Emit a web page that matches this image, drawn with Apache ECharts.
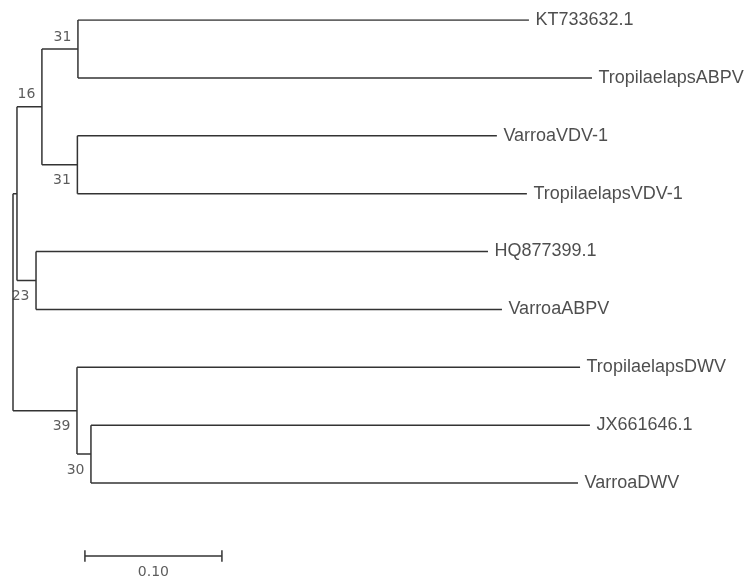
<!DOCTYPE html>
<html><head><meta charset="utf-8">
<script src="https://cdn.jsdelivr.net/npm/echarts@6/dist/echarts.min.js"></script>
<style>html,body{margin:0;padding:0;background:#fff}#c{width:751px;height:581px}</style>
</head><body><div id="c"></div>
<script>
// Leaves (top to bottom) and their branch lengths from parent
const taxa = ['KT733632.1','TropilaelapsABPV','VarroaVDV-1','TropilaelapsVDV-1','HQ877399.1','VarroaABPV','TropilaelapsDWV','JX661646.1','VarroaDWV'];
const taxonBranch = [0.3292, 0.3752, 0.3062, 0.3281, 0.3299, 0.3401, 0.3672, 0.3642, 0.3555];
// Internal clades: ids 9.. in this order; children refer to leaf index (0-8) or clade id
const cladeKids = [[0,1],[2,3],[9,10],[4,5],[11,12],[7,8],[6,14],[13,15]];
const cladeBranch = [0.0263, 0.0259, 0.0182, 0.0139, 0.0029, 0.0102, 0.0467, 0];
const cladeSupport = [31, 31, 16, 23, null, 30, 39, null];
// Scale bar
const scaleLength = 0.10;
const scaleLabel = '0.10';

// style-only: where each support label sits relative to its node
const supportSide = ['above','below','above','below',null,'below','below',null];

const nLeaf = taxa.length;
const rootId = nLeaf + cladeKids.length - 1;
const X = {}, Y = {};
function branchOf(id){ return id < nLeaf ? taxonBranch[id] : cladeBranch[id - nLeaf]; }
function place(id, px){
  X[id] = px + branchOf(id);
  if (id < nLeaf){ Y[id] = id; return; }
  const kids = cladeKids[id - nLeaf];
  kids.forEach(k => place(k, X[id]));
  Y[id] = (Y[kids[0]] + Y[kids[kids.length-1]]) / 2;
}
place(rootId, 0);

const segs = [];
for (let j = 0; j < cladeKids.length; j++){
  const id = nLeaf + j, kids = cladeKids[j];
  segs.push({coords: [[X[id], Y[kids[0]]], [X[id], Y[kids[kids.length-1]]]]});
  kids.forEach(k => segs.push({coords: [[X[id], Y[k]], [X[k], Y[k]]]}));
}
const sx0 = 0.0525, sy = 9.261, tk = 0.1;
segs.push({coords: [[sx0, sy], [sx0 + scaleLength, sy]]});
segs.push({coords: [[sx0, sy - tk], [sx0, sy + tk]]});
segs.push({coords: [[sx0 + scaleLength, sy - tk], [sx0 + scaleLength, sy + tk]]});

const leafPts = taxa.map((t, i) => ({value: [X[i], Y[i]], name: t}));
const supPts = [];
cladeSupport.forEach((s, j) => {
  if (s == null) return;
  const id = nLeaf + j;
  supPts.push({value: [X[id], Y[id]], name: String(s),
    label: {offset: supportSide[j] === 'above' ? [0, -12] : [0, 16]}});
});

const chart = echarts.init(document.getElementById('c'), null, {renderer: 'canvas'});
chart.setOption({
  animation: false,
  backgroundColor: '#fff',
  grid: {left: 13, top: 20, width: 685, height: 555.6},
  xAxis: {type: 'value', min: 0, max: 0.5, show: false},
  yAxis: {type: 'value', min: 0, max: 9.6, inverse: true, show: false},
  series: [
    {type: 'lines', coordinateSystem: 'cartesian2d', polyline: true, silent: true,
     lineStyle: {color: '#333', width: 1.5, opacity: 1}, data: segs},
    {type: 'scatter', symbolSize: 1, itemStyle: {color: 'transparent'}, data: leafPts,
     label: {show: true, position: 'right', distance: 6, formatter: p => p.name,
             fontFamily: 'Liberation Sans, Arial, sans-serif', fontSize: 18, color: '#222'}},
    {type: 'scatter', symbolSize: 1, itemStyle: {color: 'transparent'}, data: supPts,
     label: {show: true, position: 'left', distance: 6, formatter: p => p.name,
             fontFamily: 'DejaVu Sans, Verdana, sans-serif', fontSize: 14, color: '#333'}},
    {type: 'scatter', symbolSize: 1, itemStyle: {color: 'transparent'},
     data: [{value: [sx0 + scaleLength / 2, 9.54], name: scaleLabel}],
     label: {show: true, position: 'inside', formatter: p => p.name,
             fontFamily: 'DejaVu Sans, Verdana, sans-serif', fontSize: 14, color: '#333'}}
  ]
});
</script></body></html>
